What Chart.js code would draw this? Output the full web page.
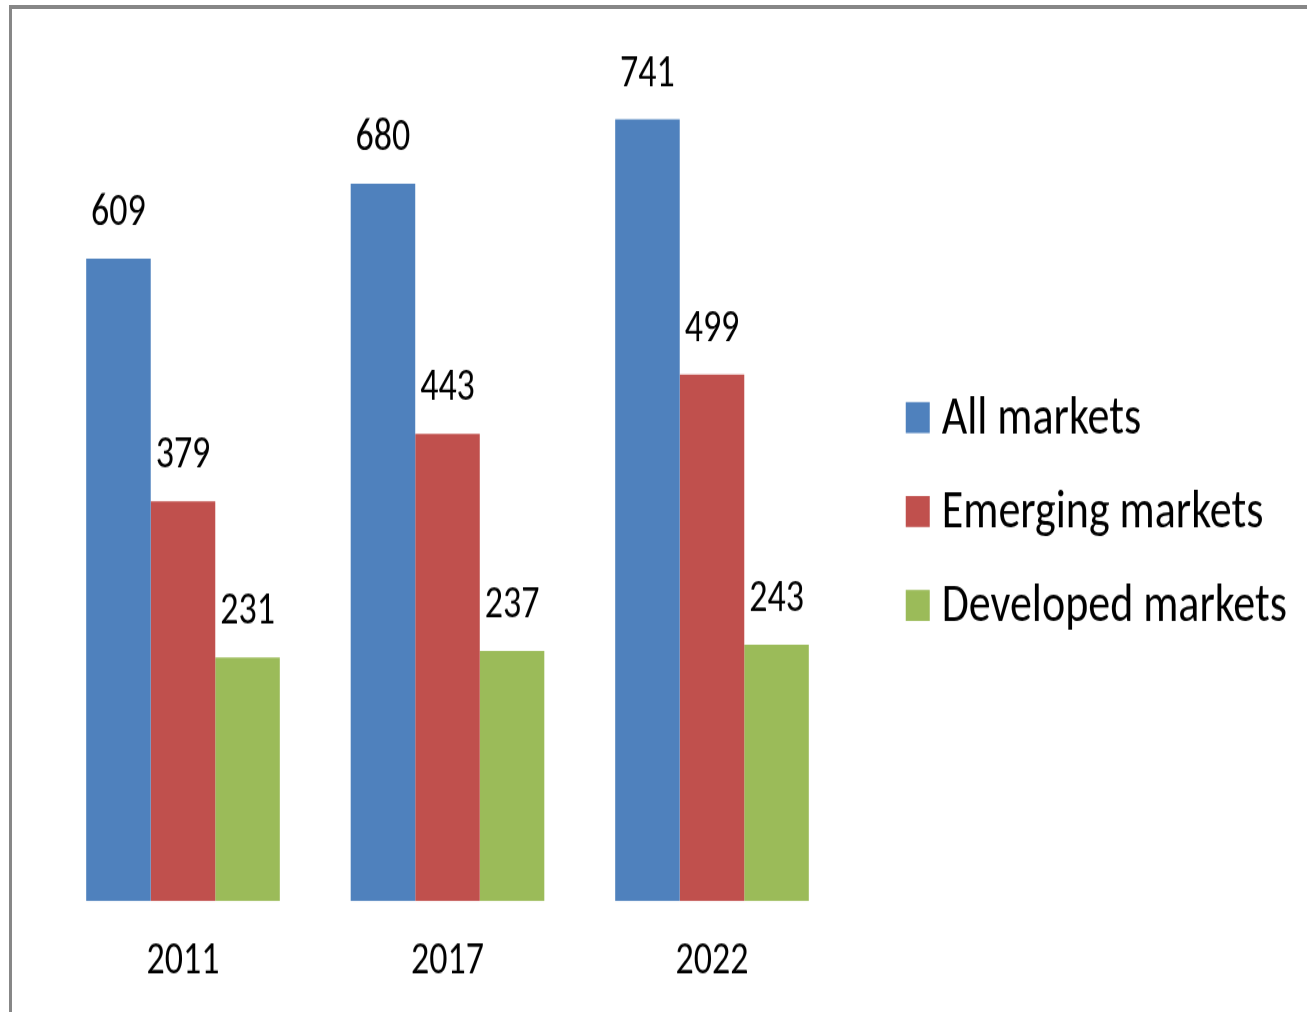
<!DOCTYPE html>
<html>
<head>
<meta charset="utf-8">
<script src="https://cdn.jsdelivr.net/npm/chart.js@4"></script>
<style>
  html, body { margin: 0; padding: 0; background: #fff; overflow: hidden; }
  #wrap { position: relative; width: 1307px; height: 1012px; overflow: hidden; }
  /* the original picture is an Excel chart stretched vertically, so stretch ours too */
  #stretch { position: absolute; left: 0; top: 0; transform: scaleY(1.2494); transform-origin: 0 0; }
  #frame {
    position: absolute; left: 9px; top: 5px; width: 1400px; height: 1100px;
    border-top: 4px solid #878787; border-left: 3px solid #878787;
    pointer-events: none;
  }
</style>
</head>
<body>
<div id="wrap">
  <div id="stretch"><canvas id="marketsChart" width="1307" height="810"></canvas></div>
  <div id="frame"></div>
</div>
<script>
// chart data
const years = ['2011', '2017', '2022'];
const allMarkets = [609, 680, 741];
const emergingMarkets = [379, 443, 499];
const developedMarkets = [231, 237, 243];
const seriesNames = ['All markets', 'Emerging markets', 'Developed markets'];

const FONT = 'Carlito, Calibri, "Liberation Sans", sans-serif';

// value labels above each bar
const valueLabels = {
  id: 'valueLabels',
  afterDatasetsDraw(chart) {
    const ctx = chart.ctx;
    ctx.save();
    ctx.font = '36px ' + FONT;
    ctx.fillStyle = '#000';
    ctx.textAlign = 'center';
    ctx.textBaseline = 'alphabetic';
    chart.data.datasets.forEach((ds, i) => {
      chart.getDatasetMeta(i).data.forEach((bar, j) => {
        ctx.fillText(String(ds.data[j]), bar.x, bar.y - 27);
      });
    });
    ctx.restore();
  }
};

// legend on the right, Excel style (square + text)
const sideLegend = {
  id: 'sideLegend',
  afterDraw(chart) {
    const ctx = chart.ctx;
    const boxX = chart.chartArea.right + 61.5;
    let baseY = 346.6;
    ctx.save();
    ctx.font = '44px ' + FONT;
    ctx.textBaseline = 'alphabetic';
    ctx.textAlign = 'left';
    chart.data.datasets.forEach(ds => {
      ctx.fillStyle = ds.backgroundColor;
      ctx.fillRect(boxX, baseY - 24.8, 24, 24.8);
      ctx.fillStyle = '#000';
      ctx.fillText(ds.label, boxX + 36, baseY);
      baseY += 75.2;
    });
    ctx.restore();
  }
};

const ctx = document.getElementById('marketsChart').getContext('2d');
new Chart(ctx, {
  type: 'bar',
  data: {
    labels: years,
    datasets: [
      { label: seriesNames[0], data: allMarkets, backgroundColor: '#4F81BD' },
      { label: seriesNames[1], data: emergingMarkets, backgroundColor: '#C0504D' },
      { label: seriesNames[2], data: developedMarkets, backgroundColor: '#9BBB59' }
    ]
  },
  options: {
    responsive: false,
    animation: false,
    events: [],
    layout: { padding: { left: 50.75, right: 462.75, top: 45.7, bottom: 0 } },
    datasets: { bar: { categoryPercentage: 0.732, barPercentage: 1.0, borderWidth: 0 } },
    plugins: {
      legend: { display: false },
      tooltip: { enabled: false }
    },
    scales: {
      x: {
        grid: { display: false, drawTicks: false },
        border: { display: false },
        ticks: { color: '#000', padding: 27.5, font: { size: 36, family: FONT } },
        afterFit(scale) { scale.height = 88.8; }
      },
      y: {
        display: false,
        min: 0,
        max: 800
      }
    }
  },
  plugins: [valueLabels, sideLegend]
});
</script>
</body>
</html>
